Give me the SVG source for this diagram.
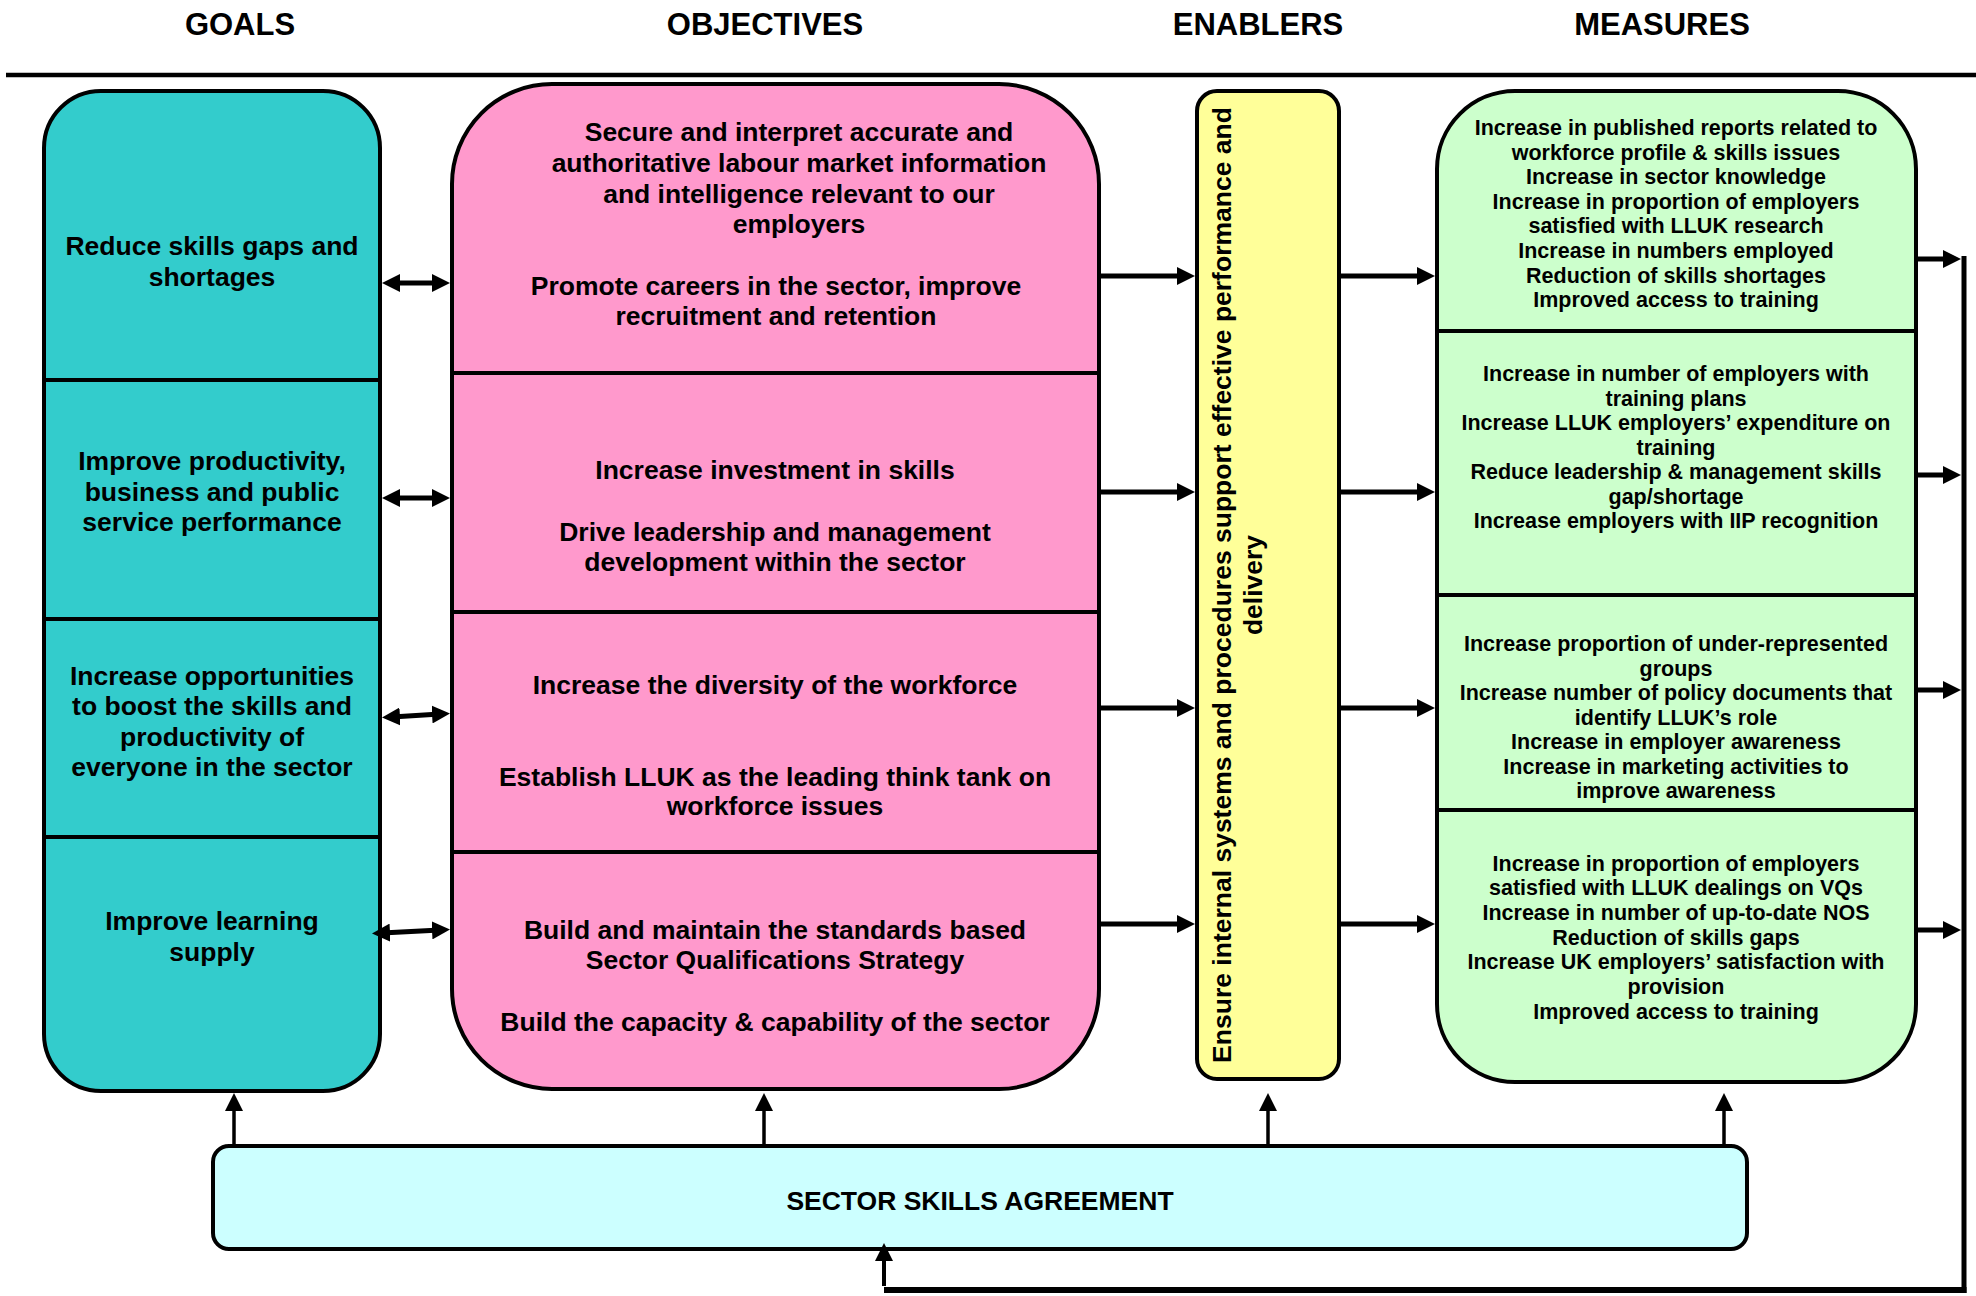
<svg xmlns="http://www.w3.org/2000/svg" width="1976" height="1296" viewBox="0 0 1976 1296">
<style>
text{font-family:"Liberation Sans",Arial,Helvetica,sans-serif;font-weight:bold;fill:#000;text-anchor:middle}
.hd{font-size:31px}
.big{font-size:26.5px}
.sm{font-size:21.5px}
.box{stroke:#000;stroke-width:4}
.div{stroke:#000;stroke-width:4}
.arr{stroke:#000;stroke-width:5;fill:none}
.thin{stroke:#000;stroke-width:3.5;fill:none}
</style>
<defs>
<marker id="ah" viewBox="0 0 18 18" refX="8" refY="9" markerWidth="18" markerHeight="18" markerUnits="userSpaceOnUse" orient="auto-start-reverse">
<path d="M0,0 L18,9 L0,18 z" fill="#000"/>
</marker>
</defs>

<g id="headers">
<text class="hd" x="240" y="35">GOALS</text>
<text class="hd" x="765" y="35">OBJECTIVES</text>
<text class="hd" x="1258" y="35">ENABLERS</text>
<text class="hd" x="1662" y="35">MEASURES</text>
<line x1="6" y1="75" x2="1976" y2="75" stroke="#000" stroke-width="4.5"/>
</g>

<g id="goals">
<rect class="box" x="44" y="91" width="336" height="1000" rx="57" ry="57" fill="#33CCCC"/>
<line class="div" x1="44" y1="380" x2="380" y2="380"/>
<line class="div" x1="44" y1="619" x2="380" y2="619"/>
<line class="div" x1="44" y1="837" x2="380" y2="837"/>
<text class="big"><tspan x="212" y="255">Reduce skills gaps and</tspan><tspan x="212" y="285.5">shortages</tspan></text>
<text class="big"><tspan x="212" y="470">Improve productivity,</tspan><tspan x="212" y="500.5">business and public</tspan><tspan x="212" y="531">service performance</tspan></text>
<text class="big"><tspan x="212" y="684.5">Increase opportunities</tspan><tspan x="212" y="715">to boost the skills and</tspan><tspan x="212" y="745.5">productivity of</tspan><tspan x="212" y="776">everyone in the sector</tspan></text>
<text class="big"><tspan x="212" y="930">Improve learning</tspan><tspan x="212" y="960.5">supply</tspan></text>
</g>

<g id="objectives">
<rect class="box" x="452" y="84" width="647" height="1005" rx="100" ry="100" fill="#FF99CC"/>
<line class="div" x1="452" y1="373" x2="1099" y2="373"/>
<line class="div" x1="452" y1="612" x2="1099" y2="612"/>
<line class="div" x1="452" y1="852" x2="1099" y2="852"/>
<text class="big"><tspan x="799" y="141">Secure and interpret accurate and</tspan><tspan x="799" y="172">authoritative labour market information</tspan><tspan x="799" y="202.5">and intelligence relevant to our</tspan><tspan x="799" y="233">employers</tspan></text>
<text class="big"><tspan x="776" y="295">Promote careers in the sector, improve</tspan><tspan x="776" y="325">recruitment and retention</tspan></text>
<text class="big"><tspan x="775" y="478.5">Increase investment in skills</tspan></text>
<text class="big"><tspan x="775" y="540.5">Drive leadership and management</tspan><tspan x="775" y="571">development within the sector</tspan></text>
<text class="big"><tspan x="775" y="693.5">Increase the diversity of the workforce</tspan></text>
<text class="big"><tspan x="775" y="785.5">Establish LLUK as the leading think tank on</tspan><tspan x="775" y="815">workforce issues</tspan></text>
<text class="big"><tspan x="775" y="938.5">Build and maintain the standards based</tspan><tspan x="775" y="969">Sector Qualifications Strategy</tspan></text>
<text class="big"><tspan x="775" y="1030.5">Build the capacity &amp; capability of the sector</tspan></text>
</g>

<g id="enablers">
<rect class="box" x="1197" y="91" width="142" height="988" rx="20" ry="20" fill="#FFFF99"/>
<text class="big" transform="translate(1231,585) rotate(-90)" x="0" y="0">Ensure internal systems and procedures support effective performance and</text>
<text class="big" transform="translate(1262,585) rotate(-90)" x="0" y="0">delivery</text>
</g>

<g id="measures">
<rect class="box" x="1437" y="91" width="479" height="991" rx="78" ry="78" fill="#CCFFCC"/>
<line class="div" x1="1437" y1="331" x2="1916" y2="331"/>
<line class="div" x1="1437" y1="595" x2="1916" y2="595"/>
<line class="div" x1="1437" y1="810" x2="1916" y2="810"/>
<text class="sm"><tspan x="1676" y="135">Increase in published reports related to</tspan><tspan x="1676" y="159.6">workforce profile &amp; skills issues</tspan><tspan x="1676" y="184.2">Increase in sector knowledge</tspan><tspan x="1676" y="208.8">Increase in proportion of employers</tspan><tspan x="1676" y="233.4">satisfied with LLUK research</tspan><tspan x="1676" y="258">Increase in numbers employed</tspan><tspan x="1676" y="282.6">Reduction of skills shortages</tspan><tspan x="1676" y="307.2">Improved access to training</tspan></text>
<text class="sm"><tspan x="1676" y="381">Increase in number of employers with</tspan><tspan x="1676" y="405.5">training plans</tspan><tspan x="1676" y="430">Increase LLUK employers’ expenditure on</tspan><tspan x="1676" y="454.5">training</tspan><tspan x="1676" y="479">Reduce leadership &amp; management skills</tspan><tspan x="1676" y="503.5">gap/shortage</tspan><tspan x="1676" y="528">Increase employers with IIP recognition</tspan></text>
<text class="sm"><tspan x="1676" y="651">Increase proportion of under-represented</tspan><tspan x="1676" y="675.5">groups</tspan><tspan x="1676" y="700">Increase number of policy documents that</tspan><tspan x="1676" y="724.5">identify LLUK’s role</tspan><tspan x="1676" y="749">Increase in employer awareness</tspan><tspan x="1676" y="773.5">Increase in marketing activities to</tspan><tspan x="1676" y="798">improve awareness</tspan></text>
<text class="sm"><tspan x="1676" y="870.5">Increase in proportion of employers</tspan><tspan x="1676" y="895">satisfied with LLUK dealings on VQs</tspan><tspan x="1676" y="920">Increase in number of up-to-date NOS</tspan><tspan x="1676" y="944.5">Reduction of skills gaps</tspan><tspan x="1676" y="969">Increase UK employers’ satisfaction with</tspan><tspan x="1676" y="994">provision</tspan><tspan x="1676" y="1018.5">Improved access to training</tspan></text>
</g>

<g id="ssa">
<rect class="box" x="213" y="1146" width="1534" height="103" rx="16" ry="16" fill="#CCFFFF"/>
<text class="big" x="980" y="1209.5">SECTOR SKILLS AGREEMENT</text>
</g>

<g id="connectors">
<line class="arr" x1="392" y1="283" x2="440" y2="283" marker-start="url(#ah)" marker-end="url(#ah)"/>
<line class="arr" x1="392" y1="498" x2="440" y2="498" marker-start="url(#ah)" marker-end="url(#ah)"/>
<line class="arr" x1="392" y1="717" x2="440" y2="714" marker-start="url(#ah)" marker-end="url(#ah)"/>
<line class="arr" x1="382" y1="933" x2="440" y2="930" marker-start="url(#ah)" marker-end="url(#ah)"/>

<line class="arr" x1="1101" y1="276" x2="1185" y2="276" marker-end="url(#ah)"/>
<line class="arr" x1="1101" y1="492" x2="1185" y2="492" marker-end="url(#ah)"/>
<line class="arr" x1="1101" y1="708" x2="1185" y2="708" marker-end="url(#ah)"/>
<line class="arr" x1="1101" y1="924" x2="1185" y2="924" marker-end="url(#ah)"/>

<line class="arr" x1="1341" y1="276" x2="1425" y2="276" marker-end="url(#ah)"/>
<line class="arr" x1="1341" y1="492" x2="1425" y2="492" marker-end="url(#ah)"/>
<line class="arr" x1="1341" y1="708" x2="1425" y2="708" marker-end="url(#ah)"/>
<line class="arr" x1="1341" y1="924" x2="1425" y2="924" marker-end="url(#ah)"/>

<line class="arr" x1="1918" y1="259" x2="1951" y2="259" marker-end="url(#ah)"/>
<line class="arr" x1="1918" y1="475" x2="1951" y2="475" marker-end="url(#ah)"/>
<line class="arr" x1="1918" y1="690" x2="1951" y2="690" marker-end="url(#ah)"/>
<line class="arr" x1="1918" y1="930" x2="1951" y2="930" marker-end="url(#ah)"/>

<line class="arr" x1="1964" y1="256" x2="1964" y2="1293"/>
<line x1="884" y1="1290" x2="1966.5" y2="1290" stroke="#000" stroke-width="6"/>
<line x1="884" y1="1286" x2="884" y2="1253" stroke="#000" stroke-width="4" marker-end="url(#ah)"/>

<line class="thin" x1="234" y1="1146" x2="234" y2="1103" marker-end="url(#ah)"/>
<line class="thin" x1="764" y1="1146" x2="764" y2="1103" marker-end="url(#ah)"/>
<line class="thin" x1="1268" y1="1146" x2="1268" y2="1103" marker-end="url(#ah)"/>
<line class="thin" x1="1724" y1="1146" x2="1724" y2="1103" marker-end="url(#ah)"/>
</g>
</svg>
